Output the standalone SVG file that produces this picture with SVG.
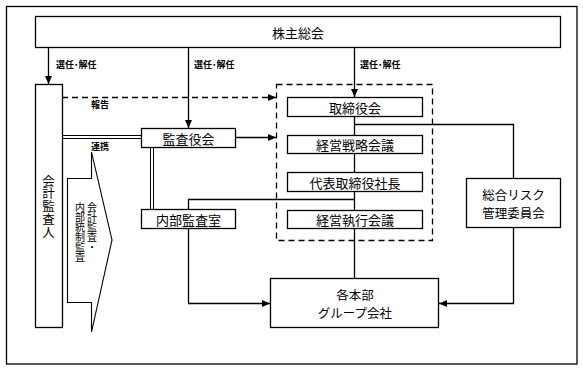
<svg xmlns="http://www.w3.org/2000/svg" width="583" height="371" viewBox="0 0 583 371">
<style>
text{font-family:"Noto Sans CJK JP","Noto Sans",sans-serif;fill:#000}
.box{fill:#fff;stroke:#000;stroke-width:1.3}
.lbl{font-size:13px;text-anchor:middle;dominant-baseline:central}
.lbl2{font-size:12.5px;text-anchor:middle;dominant-baseline:central}
.sm{font-size:9px;font-weight:bold;dominant-baseline:central}
.ln{fill:none;stroke:#000;stroke-width:1.3}
.dl{fill:none;stroke:#000;stroke-width:1}
.dash{fill:none;stroke:#000;stroke-width:1.3;stroke-dasharray:6,4}
.vt{writing-mode:vertical-rl}
</style>
<defs>
<marker id="ah" markerUnits="userSpaceOnUse" markerWidth="8" markerHeight="7" refX="8" refY="3.5" orient="auto">
<path d="M0,0 L8,3.5 L0,7 z" fill="#000"/>
</marker>
</defs>
<rect x="6.5" y="6.5" width="570.5" height="357.5" fill="#fff" stroke="#000" stroke-width="1.3"/>
<g id="connectors">
<path class="ln" d="M48.5,47 V84" marker-end="url(#ah)"/>
<path class="ln" d="M188.5,47 V128" marker-end="url(#ah)"/>
<path class="ln" d="M354.5,47 V97" marker-end="url(#ah)"/>
<path class="dash" d="M62,97.5 H276" marker-end="url(#ah)"/>
<path class="ln" d="M236,137.5 H276" marker-end="url(#ah)"/>
<path class="dl" d="M62,135.5 H141 M62,138.5 H141"/>
<path class="dl" d="M150.5,147 V209 M153.5,147 V209"/>
<path class="ln" d="M354.5,116 V135 M354.5,153 V172 M354.5,191 V210 M354.5,228 V278"/>
<path class="ln" d="M354.5,124.5 H513.5 V178"/>
<path class="ln" d="M354.5,199.5 H188.5 V209"/>
<path class="ln" d="M188.5,228 V303.5 H270" marker-end="url(#ah)"/>
<path class="ln" d="M513.5,227 V303.5 H439" marker-end="url(#ah)"/>
<text class="sm" x="56" y="64">選任･解任</text>
<text class="sm" x="194" y="64">選任･解任</text>
<text class="sm" x="360" y="64">選任･解任</text>
<text class="sm" x="91" y="104">報告</text>
<text class="sm" x="91" y="146">連携</text>
</g>
<rect class="dash" x="276.5" y="84.5" width="156" height="156"/>
<g id="kabunushi"><rect class="box" x="35.5" y="16.5" width="525" height="31"/><text class="lbl" x="298" y="32">株主総会</text></g>
<g id="kaikei"><rect class="box" x="35.5" y="84.5" width="27" height="243"/><text class="vt" x="48.5" y="206.5" font-size="12.5" text-anchor="middle" letter-spacing="0.2">会計監査人</text></g>
<g id="audit-arrow"><polygon points="67.5,178.5 91.5,178.5 91.5,152 112,240 91.5,332 91.5,302.5 67.5,302.5" fill="#fff" stroke="#000" stroke-width="1.1"/>
<text class="vt" x="92" y="202" font-size="10">会計監査・</text>
<text class="vt" x="80" y="202" font-size="10">内部統制監査</text></g>
<g id="kansayaku"><rect class="box" x="141.5" y="128.5" width="94" height="19"/><text class="lbl" x="188.5" y="138">監査役会</text></g>
<g id="naibu"><rect class="box" x="141.5" y="209.5" width="94" height="19"/><text class="lbl" x="188.5" y="219">内部監査室</text></g>
<g id="torishimariyaku"><rect class="box" x="287.5" y="97.5" width="135" height="19"/><text class="lbl" x="355" y="107">取締役会</text></g>
<g id="senryaku"><rect class="box" x="287.5" y="135.5" width="135" height="18"/><text class="lbl" x="355" y="144.5">経営戦略会議</text></g>
<g id="shacho"><rect class="box" x="287.5" y="172.5" width="135" height="19"/><text class="lbl" x="355" y="182">代表取締役社長</text></g>
<g id="shikko"><rect class="box" x="287.5" y="210.5" width="135" height="18"/><text class="lbl" x="355" y="219.5">経営執行会議</text></g>
<g id="risk"><rect class="box" x="466.5" y="178.5" width="94" height="49"/><text class="lbl2" x="513.5" y="194.2">総合リスク</text><text class="lbl2" x="513.5" y="212.6">管理委員会</text></g>
<g id="group"><rect class="box" x="270.5" y="278.5" width="168" height="49"/><text class="lbl2" x="355" y="294.3">各本部</text><text class="lbl2" x="355" y="312.7">グループ会社</text></g>
</svg>
